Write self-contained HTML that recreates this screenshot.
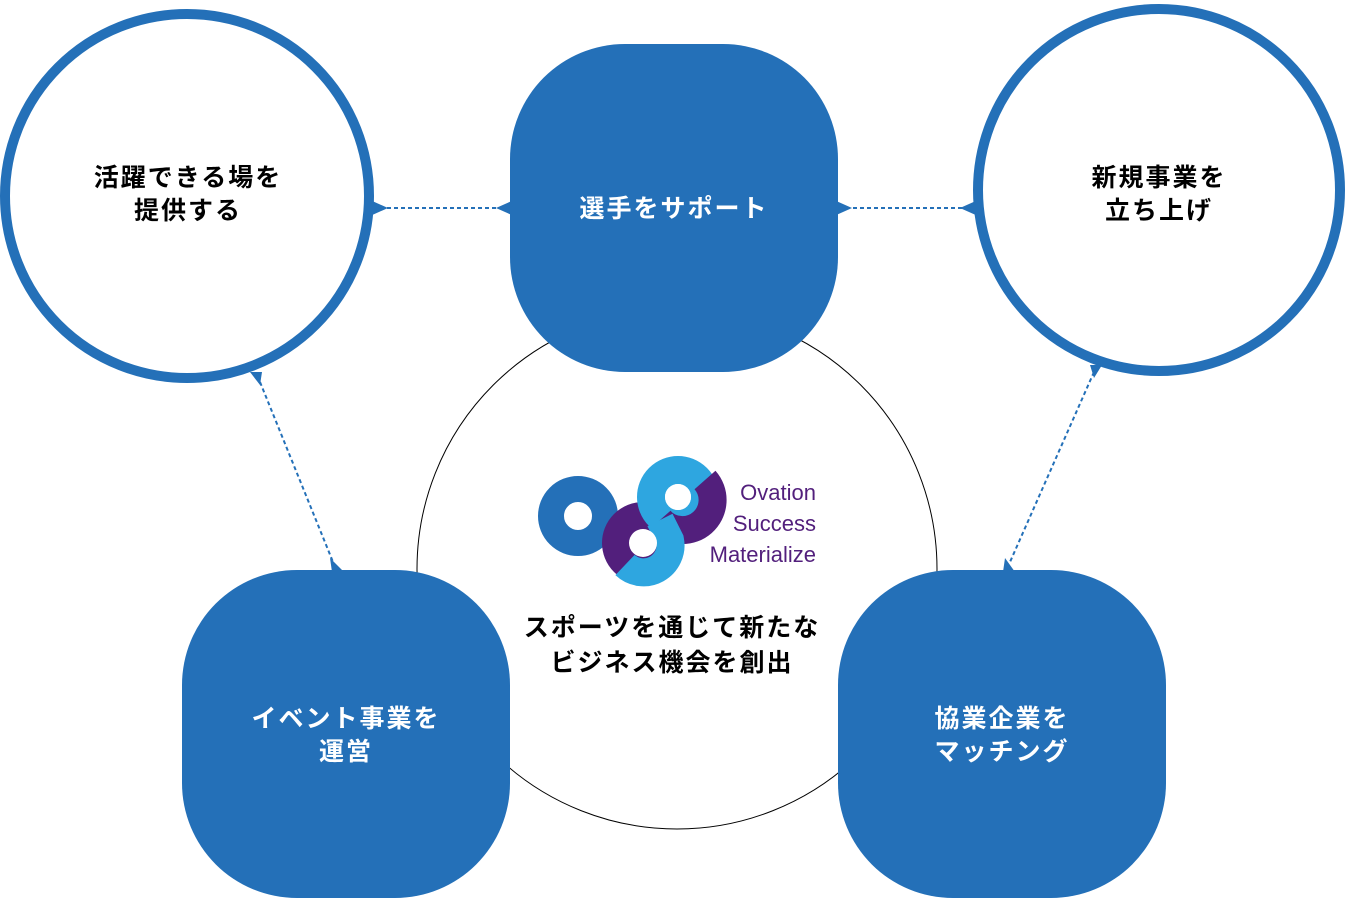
<!DOCTYPE html>
<html><head><meta charset="utf-8"><style>
body{margin:0;background:#fff;}
svg text{font-family:"Liberation Sans","Noto Sans CJK JP",sans-serif;}
.j{font-weight:bold;font-size:25px;letter-spacing:2px;}
</style></head><body>
<svg width="1348" height="898" viewBox="0 0 1348 898" xmlns="http://www.w3.org/2000/svg">
<circle cx="677" cy="569" r="260" fill="none" stroke="#000" stroke-width="1"/>
<g stroke="#2470b8" stroke-width="2" stroke-dasharray="4,3" fill="none">
<line x1="380" y1="208" x2="502" y2="208"/>
<line x1="846" y1="208" x2="966" y2="208"/>
<line x1="260" y1="382" x2="333" y2="562"/>
<line x1="1094" y1="372" x2="1010" y2="562"/>
</g>
<g fill="#2470b8">
<polygon points="370,200 388,208 370,216"/>
<polygon points="514,200 496,208 514,216"/>
<polygon points="834,200 852,208 834,216"/>
<polygon points="978,200 960,208 978,216"/>
<polygon points="250,372 262,372 260,385"/>
<polygon points="330,558 332,572 344,572"/>
<polygon points="1090,365 1102,365 1094,378"/>
<polygon points="1005,558 1003,572 1015,572"/>
</g>
<circle cx="187" cy="196" r="182" fill="#fff" stroke="#2470b8" stroke-width="10"/>
<circle cx="1159" cy="190" r="181" fill="#fff" stroke="#2470b8" stroke-width="10"/>
<rect x="510" y="44" width="328" height="328" rx="115" fill="#2470b8"/>
<rect x="182" y="570" width="328" height="328" rx="115" fill="#2470b8"/>
<rect x="838" y="570" width="328" height="328" rx="115" fill="#2470b8"/>
<!-- logo -->
<circle cx="578" cy="516" r="27" fill="none" stroke="#2470b8" stroke-width="26"/>
<circle cx="643" cy="543" r="27" fill="none" stroke="#521f7c" stroke-width="28"/>
<circle cx="678" cy="497" r="27" fill="none" stroke="#2ea6e0" stroke-width="28"/>
<path d="M705,480 A27,27 0 0 1 660,520" fill="none" stroke="#521f7c" stroke-width="28"/>
<path d="M660,520 L670,540 A27,27 0 0 1 625,565" fill="none" stroke="#2ea6e0" stroke-width="28"/>
<circle cx="678" cy="497" r="13" fill="#fff"/>
<circle cx="643" cy="543" r="14" fill="#fff"/>
<g fill="#521f7c" font-size="22" text-anchor="end">
<text x="816" y="500">Ovation</text>
<text x="816" y="531">Success</text>
<text x="816" y="562">Materialize</text>
</g>
<g class="j" text-anchor="middle">
<text x="188" y="186" class="j">活躍できる場を</text>
<text x="188" y="219" class="j">提供する</text>
<text x="1159" y="186" class="j">新規事業を</text>
<text x="1159" y="219" class="j">立ち上げ</text>
<text x="672" y="636" class="j">スポーツを通じて新たな</text>
<text x="672" y="671" class="j">ビジネス機会を創出</text>
<text x="674" y="217" class="j" fill="#fff">選手をサポート</text>
<text x="346" y="727" class="j" fill="#fff">イベント事業を</text>
<text x="346" y="760" class="j" fill="#fff">運営</text>
<text x="1002" y="727" class="j" fill="#fff">協業企業を</text>
<text x="1002" y="760" class="j" fill="#fff">マッチング</text>
</g>
</svg>
</body></html>
